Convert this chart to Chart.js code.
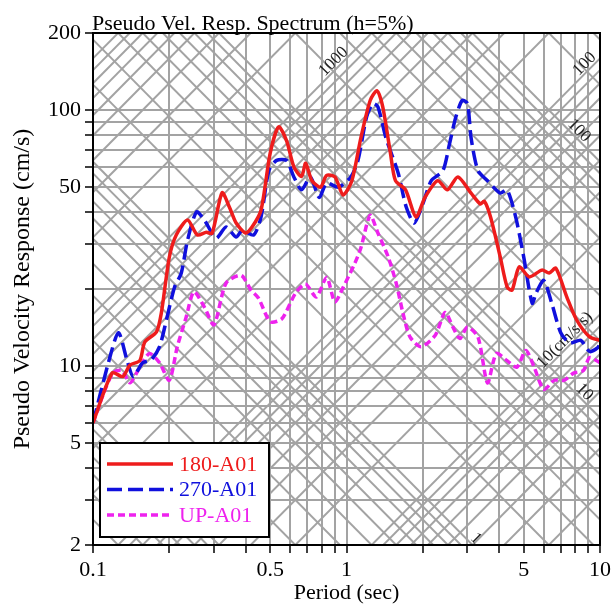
<!DOCTYPE html>
<html>
<head>
<meta charset="utf-8">
<script src="https://cdn.jsdelivr.net/npm/chart.js@4.4.1/dist/chart.umd.min.js"></script>
<style>
  body { margin: 0; background: #fff; }
  #wrap { width: 615px; height: 608px; }
</style>
</head>
<body>
<div id="wrap"><canvas id="psvChart" width="615" height="608"></canvas></div>
<script>
// Periods (sec) and pseudo velocity (cm/s)
const period180 = [0.1, 0.119, 0.131, 0.14, 0.153, 0.16, 0.178, 0.186, 0.2, 0.213, 0.236, 0.258, 0.28, 0.295, 0.323, 0.345, 0.367, 0.4, 0.424, 0.46, 0.5, 0.54, 0.58, 0.62, 0.665, 0.69, 0.73, 0.79, 0.835, 0.9, 0.97, 1.05, 1.14, 1.24, 1.32, 1.39, 1.49, 1.56, 1.71, 1.88, 2.04, 2.29, 2.5, 2.75, 3.1, 3.37, 3.5, 3.7, 4.04, 4.3, 4.5, 4.8, 5.26, 5.9, 6.3, 6.7, 7.4, 8.1, 9.1, 10];
const vel180 = [6.0, 9.4, 9.1, 10.1, 10.5, 12.4, 13.6, 16.1, 26.6, 32.5, 37.2, 32.5, 33.3, 33, 47.5, 41.8, 36.2, 33.1, 34.9, 40.6, 67.9, 86, 76, 60, 55, 62, 53, 50, 55.6, 54.8, 46.6, 53, 78, 109, 119, 103, 68, 53, 48.8, 38.2, 45.6, 53, 48.8, 54.8, 47.4, 43, 44, 38.2, 26.7, 20.4, 19.8, 24.4, 22.3, 23.7, 23.1, 24.1, 18.6, 15.1, 13, 12.6];

const period270 = [0.1, 0.115, 0.126, 0.136, 0.144, 0.157, 0.17, 0.183, 0.195, 0.21, 0.223, 0.236, 0.256, 0.275, 0.306, 0.335, 0.367, 0.388, 0.43, 0.46, 0.494, 0.53, 0.58, 0.62, 0.665, 0.72, 0.78, 0.835, 0.93, 1.04, 1.11, 1.2, 1.27, 1.33, 1.43, 1.6, 1.72, 1.85, 2.0, 2.16, 2.4, 2.55, 2.7, 2.86, 3.0, 3.1, 3.3, 3.6, 4.04, 4.3, 4.65, 5.0, 5.4, 5.6, 6.0, 6.45, 7.0, 7.6, 8.4, 9.1, 9.8, 10];
const vel270 = [6.0, 10.3, 13.5, 10.6, 9.1, 10.3, 10.6, 11.9, 15.2, 20.4, 23.1, 31, 40, 37.2, 31.6, 34.9, 31.9, 33.9, 32.5, 38.2, 58, 63.6, 63.6, 54.8, 48.8, 54.8, 45.6, 51.8, 50, 54.8, 63.6, 94, 106, 103, 78, 56.6, 41.8, 36.2, 43, 53, 58, 74, 94, 109, 106, 78, 58, 53, 47.4, 48.8, 38.2, 26.7, 17.6, 19.3, 21.6, 17.6, 13.5, 12.3, 12.6, 11.4, 11.8, 12.3];

const periodUP = [0.1, 0.11, 0.12, 0.13, 0.14, 0.153, 0.167, 0.183, 0.2, 0.215, 0.233, 0.25, 0.275, 0.3, 0.335, 0.384, 0.42, 0.45, 0.5, 0.556, 0.63, 0.69, 0.76, 0.835, 0.9, 0.97, 1.08, 1.14, 1.24, 1.33, 1.46, 1.57, 1.67, 1.78, 1.97, 2.24, 2.45, 2.63, 2.8, 3.0, 3.3, 3.6, 3.9, 4.3, 4.7, 5.1, 5.5, 6.0, 6.6, 7.2, 7.9, 8.6, 9.1, 10];
const velUP = [6.0, 7.8, 9.4, 9.6, 8.6, 9.9, 11.2, 10.3, 8.8, 11.9, 15.5, 19.5, 17, 14.5, 21.1, 22.6, 19.8, 18.4, 14.9, 15.3, 19.3, 20.9, 18.6, 22.2, 17.8, 20.3, 25.3, 29, 38.8, 33.1, 26.7, 21.1, 16.1, 13, 11.9, 13.2, 16.2, 14.2, 12.8, 14.2, 13, 8.6, 11.2, 10.5, 9.9, 11.5, 9.9, 8.1, 8.8, 8.8, 9.4, 9.6, 10.8, 10.3];

const seriesNames = ['180-A01', '270-A01', 'UP-A01'];

// axis ticks (grid at every tick, labels only on some)
const xTicks = [0.1, 0.2, 0.3, 0.4, 0.5, 0.6, 0.7, 0.8, 0.9, 1, 2, 3, 4, 5, 6, 7, 8, 9, 10];
const xLabels = [0.1, 0.5, 1, 5, 10];
const yTicks = [2, 3, 4, 5, 6, 7, 8, 9, 10, 20, 30, 40, 50, 60, 70, 80, 90, 100, 200];
const yLabels = [2, 5, 10, 50, 100, 200];

// tripartite grid: acceleration lines (cm/s/s) and displacement lines (cm)
const gridMantissa = [1, 2, 3, 4, 5, 6, 7, 8, 9];
const accelDecades = [1, 10, 100, 1000, 10000];
const dispDecades = [0.01, 0.1, 1, 10, 100];
const diagLabels = [
    { kind: 'acc', value: 1000, period: 0.93, text: '1000' },
    { kind: 'acc', value: 100, period: 9.1, text: '100' },
    { kind: 'acc', value: 10, period: 7.6, text: '10(cm/s/s)' },
    { kind: 'disp', value: 100, period: 7.9, text: '100' },
    { kind: 'disp', value: 10, period: 8.3, text: '10' },
    { kind: 'disp', value: 1, period: 3.1, text: '1' }
];

const serif = '"Liberation Serif", "Times New Roman", serif';
const gridGray = '#a3a3a3';

function makeSeries(label, periods, vels, color, dash) {
    return {
        label: label,
        data: periods.map((t, i) => ({ x: t, y: vels[i] })),
        borderColor: color,
        backgroundColor: color,
        borderWidth: 3.5,
        borderDash: dash,
        pointRadius: 0,
        tension: 0.25,
        fill: false
    };
}

// SV on a diagonal line at period t
function svOf(kind, value, t) {
    return kind === 'acc' ? value * t / (2 * Math.PI) : 2 * Math.PI * value / t;
}

const tripartite = {
    id: 'tripartite',
    beforeDatasetsDraw(chart) {
        const { ctx, chartArea: a, scales: { x, y } } = chart;
        ctx.save();
        ctx.beginPath();
        ctx.rect(a.left, a.top, a.right - a.left, a.bottom - a.top);
        ctx.clip();
        ctx.strokeStyle = gridGray;
        ctx.lineWidth = 2;
        const drawLine = (kind, v) => {
            ctx.beginPath();
            ctx.moveTo(x.getPixelForValue(0.1), y.getPixelForValue(svOf(kind, v, 0.1)));
            ctx.lineTo(x.getPixelForValue(10), y.getPixelForValue(svOf(kind, v, 10)));
            ctx.stroke();
        };
        accelDecades.forEach(d => gridMantissa.forEach(m => drawLine('acc', m * d)));
        dispDecades.forEach(d => gridMantissa.forEach(m => drawLine('disp', m * d)));

        // line labels
        ctx.fillStyle = '#222';
        ctx.font = '17px ' + serif;
        ctx.textAlign = 'center';
        ctx.textBaseline = 'middle';
        diagLabels.forEach(l => {
            const px = x.getPixelForValue(l.period);
            const py = y.getPixelForValue(svOf(l.kind, l.value, l.period));
            const px2 = x.getPixelForValue(l.period * 1.2);
            const py2 = y.getPixelForValue(svOf(l.kind, l.value, l.period * 1.2));
            ctx.save();
            ctx.translate(px, py);
            ctx.rotate(Math.atan2(py2 - py, px2 - px));
            ctx.fillText(l.text, 0, -7);
            ctx.restore();
        });
        ctx.restore();
    },
    afterDatasetsDraw(chart) {
        const { ctx, chartArea: a } = chart;
        ctx.save();
        // frame
        ctx.strokeStyle = '#000';
        ctx.lineWidth = 2;
        ctx.strokeRect(a.left, a.top, a.right - a.left, a.bottom - a.top);

        // title above the frame
        ctx.fillStyle = '#000';
        ctx.font = '22px ' + serif;
        ctx.textAlign = 'left';
        ctx.textBaseline = 'alphabetic';
        ctx.fillText('Pseudo Vel. Resp. Spectrum (h=5%)', 92, 30);

        // legend box, bottom left
        const bx = 100, by = 443, bw = 169, bh = 94;
        ctx.fillStyle = '#fff';
        ctx.fillRect(bx, by, bw, bh);
        ctx.lineWidth = 2;
        ctx.strokeStyle = '#000';
        ctx.strokeRect(bx, by, bw, bh);
        ctx.font = '22px ' + serif;
        ctx.textBaseline = 'middle';
        chart.data.datasets.forEach((ds, i) => {
            const ly = by + 21 + i * 25.5;
            ctx.strokeStyle = ds.borderColor;
            ctx.lineWidth = 3.5;
            ctx.setLineDash(ds.borderDash || []);
            ctx.beginPath();
            ctx.moveTo(bx + 7, ly);
            ctx.lineTo(bx + 73, ly);
            ctx.stroke();
            ctx.setLineDash([]);
            ctx.fillStyle = ds.borderColor;
            ctx.fillText(ds.label, bx + 79, ly + 1);
        });
        ctx.restore();
    }
};

const ctx = document.getElementById('psvChart').getContext('2d');
const psvChart = new Chart(ctx, {
    type: 'line',
    data: {
        datasets: [
            makeSeries(seriesNames[0], period180, vel180, '#ee1c1c', []),
            makeSeries(seriesNames[1], period270, vel270, '#1010dd', [15, 6]),
            makeSeries(seriesNames[2], periodUP, velUP, '#ee22ee', [7, 4])
        ]
    },
    options: {
        responsive: false,
        animation: false,
        layout: { padding: { top: 33, right: 12, left: 0, bottom: 0 } },
        plugins: {
            legend: { display: false },
            tooltip: { enabled: false }
        },
        scales: {
            x: {
                type: 'logarithmic',
                min: 0.1,
                max: 10,
                afterBuildTicks: s => { s.ticks = xTicks.map(v => ({ value: v })); },
                afterFit: s => { s.height = 63; },
                ticks: {
                    autoSkip: false,
                    maxRotation: 0,
                    padding: 4,
                    color: '#000',
                    font: { family: serif, size: 22 },
                    callback: v => xLabels.includes(v) ? String(v) : ''
                },
                grid: { color: gridGray, lineWidth: 2, tickColor: '#000', tickLength: 8, tickWidth: 1.5 },
                border: { color: '#000', width: 2 },
                title: {
                    display: true,
                    text: 'Period (sec)',
                    color: '#000',
                    font: { family: serif, size: 22 },
                    padding: { top: 0, bottom: 2 }
                }
            },
            y: {
                type: 'logarithmic',
                min: 2,
                max: 200,
                afterBuildTicks: s => { s.ticks = yTicks.map(v => ({ value: v })); },
                afterFit: s => { s.width = 93; },
                ticks: {
                    autoSkip: false,
                    padding: 4,
                    color: '#000',
                    font: { family: serif, size: 22 },
                    callback: v => yLabels.includes(v) ? String(v) : ''
                },
                grid: { color: gridGray, lineWidth: 2, tickColor: '#000', tickLength: 8, tickWidth: 1.5 },
                border: { color: '#000', width: 2 },
                title: {
                    display: true,
                    text: 'Pseudo Velocity Response (cm/s)',
                    color: '#000',
                    font: { family: serif, size: 24 },
                    padding: { top: 8, bottom: 0 }
                }
            }
        }
    },
    plugins: [tripartite]
});
</script>
</body>
</html>
